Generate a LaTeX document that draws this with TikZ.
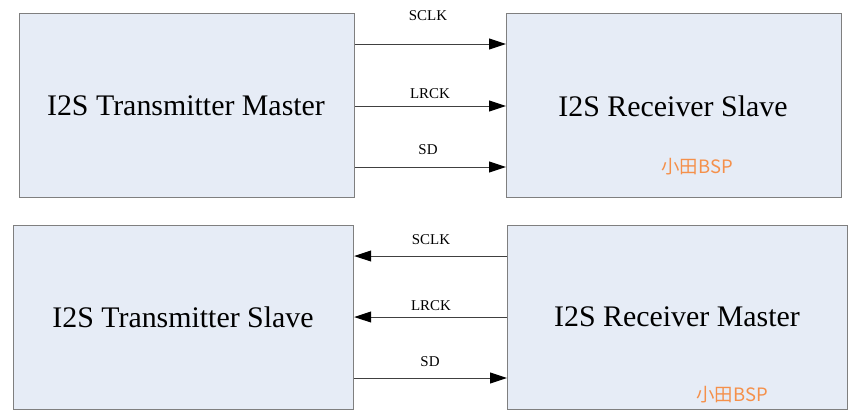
\documentclass[tikz,border=0pt]{standalone}
\usepackage{fontspec}
\setmainfont{Liberation Serif}
\newfontfamily\cjk{Noto Sans CJK SC}
\usetikzlibrary{arrows.meta}
\definecolor{boxfill}{HTML}{E6ECF6}
\definecolor{boxline}{HTML}{7F7F7F}
\definecolor{wm}{HTML}{F5904A}
\definecolor{wire}{HTML}{404040}
\begin{document}
\begin{tikzpicture}[x=1bp,y=-1bp,
  blk/.style={draw=boxline,line width=1.2bp,fill=boxfill,inner sep=0pt},
  wirearrow/.style={draw=wire,line width=1bp,-{Triangle[length=17bp,width=11bp,color=black]}},
  sig/.style={font=\fontsize{15}{17}\selectfont,inner sep=0pt,anchor=base},
  title/.style={font=\fontsize{30}{32}\selectfont,inner sep=0pt},
  wmark/.style={inner sep=0pt,text=wm,font=\cjk\fontsize{18.5}{20}\selectfont}]
\useasboundingbox (0,0) rectangle (852,414);
% boxes
\node[blk,minimum width=335bp,minimum height=184bp,anchor=north west] (tm) at (19,13) {};
\node[blk,minimum width=335bp,minimum height=184bp,anchor=north west] (rs) at (506,13) {};
\node[blk,minimum width=340bp,minimum height=184bp,anchor=north west] (ts) at (13,225) {};
\node[blk,minimum width=340bp,minimum height=184bp,anchor=north west] (rm) at (507,225) {};
% titles
\node[title] (tmt) at (186,106) {I2S Transmitter Master};
\node[title] (rst) at (673,106) {I2S Receiver Slave};
\node[title] (tst) at (183,317) {I2S Transmitter Slave};
\node[title] (rmt) at (677,317) {I2S Receiver Master};
% watermarks
\node[wmark] (w1) at (697,167) {小田BSP};
\node[wmark] (w2) at (732,395) {小田BSP};
% connector anchor coordinates
\coordinate (a1) at (tm.east |- 0,44);  \coordinate (b1) at (rs.west |- 0,44);
\coordinate (a2) at (tm.east |- 0,106); \coordinate (b2) at (rs.west |- 0,106);
\coordinate (a3) at (tm.east |- 0,167); \coordinate (b3) at (rs.west |- 0,167);
\coordinate (c1) at (ts.east |- 0,256); \coordinate (d1) at (rm.west |- 0,256);
\coordinate (c2) at (ts.east |- 0,317); \coordinate (d2) at (rm.west |- 0,317);
\coordinate (c3) at (ts.east |- 0,378); \coordinate (d3) at (rm.west |- 0,378);
\draw[wirearrow] (a1) -- (b1);
\draw[wirearrow] (a2) -- (b2);
\draw[wirearrow] (a3) -- (b3);
\draw[wirearrow] (d1) -- (c1);
\draw[wirearrow] (d2) -- (c2);
\draw[wirearrow] (c3) -- (d3);
% labels
\node[sig] (l1) at (428,20) {SCLK};
\node[sig] (l2) at (430,98) {LRCK};
\node[sig] (l3) at (428,154) {SD};
\node[sig] (l4) at (431,244) {SCLK};
\node[sig] (l5) at (431,310) {LRCK};
\node[sig] (l6) at (430,366) {SD};
\end{tikzpicture}
\end{document}
